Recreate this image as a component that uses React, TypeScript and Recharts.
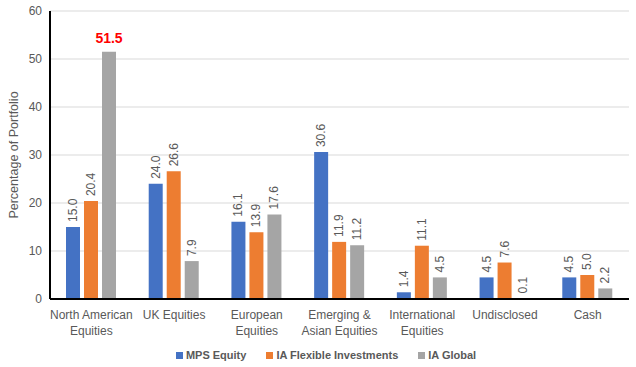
import React from "react";
import { BarChart, Bar, XAxis, YAxis, CartesianGrid, Legend, LabelList } from "recharts";

const categories = [
  "North American\nEquities",
  "UK Equities",
  "European\nEquities",
  "Emerging &\nAsian Equities",
  "International\nEquities",
  "Undisclosed",
  "Cash",
];
const mpsEquity = [15.0, 24.0, 16.1, 30.6, 1.4, 4.5, 4.5];
const iaFlexible = [20.4, 26.6, 13.9, 11.9, 11.1, 7.6, 5.0];
const iaGlobal = [51.5, 7.9, 17.6, 11.2, 4.5, 0.1, 2.2];
const yTicks = [0, 10, 20, 30, 40, 50, 60];

const seriesNames = ["MPS Equity", "IA Flexible Investments", "IA Global"];
const colors = ["#4472C4", "#ED7D31", "#A5A5A5"];

const data = categories.map((c, i) => ({
  cat: c,
  mps: mpsEquity[i],
  flex: iaFlexible[i],
  glob: iaGlobal[i],
}));

const FONT = "'Liberation Sans', Arial, sans-serif";
const TEXT = "#595959";

const CatTick = (props: any) => {
  const { x, y, payload } = props;
  const lines = String(payload.value).split("\n");
  return (
    <text x={x} y={y + 12} textAnchor="middle" fill={TEXT} fontSize={12} fontFamily={FONT}>
      {lines.map((l: string, i: number) => (
        <tspan key={i} x={x} dy={i === 0 ? 0 : 16}>
          {l}
        </tspan>
      ))}
    </text>
  );
};

const ValueLabel = (props: any) => {
  const { x, y, width, value } = props;
  const cx = x + width / 2;
  if (value === 51.5) {
    return (
      <text x={cx} y={y - 9} textAnchor="middle" fill="#FF0000" fontSize={14} fontWeight="bold" fontFamily={FONT}>
        {Number(value).toFixed(1)}
      </text>
    );
  }
  const ty = y - 5;
  const tx = cx + 4;
  return (
    <text
      x={tx}
      y={ty}
      transform={`rotate(-90 ${tx} ${ty})`}
      textAnchor="start"
      fill={TEXT}
      fontSize={12}
      fontFamily={FONT}
    >
      {Number(value).toFixed(1)}
    </text>
  );
};

const LegendContent = () => (
  <div style={{ display: "flex", justifyContent: "center", alignItems: "center", fontFamily: FONT, fontSize: 11, fontWeight: "bold", color: TEXT, paddingLeft: 16 }}>
    {seriesNames.map((n, i) => (
      <div key={n} style={{ display: "flex", alignItems: "center", marginRight: i < 2 ? 20 : 0 }}>
        <span style={{ width: 7, height: 7, background: colors[i], display: "inline-block", marginRight: 3 }} />
        <span>{n}</span>
      </div>
    ))}
  </div>
);

export default function App() {
  return (
    <div style={{ position: "absolute", left: 0, top: 0, background: "#fff" }}>
      <BarChart
        width={636}
        height={367}
        data={data}
        margin={{ top: 11, right: 7, left: 0, bottom: 0 }}
        barCategoryGap={16}
        barGap={4}
      >
        <CartesianGrid vertical={false} stroke="#D9D9D9" />
        <XAxis
          dataKey="cat"
          tick={<CatTick />}
          tickLine={false}
          axisLine={{ stroke: "#000", strokeWidth: 2 }}
          interval={0}
          height={38}
        />
        <YAxis
          domain={[0, 60]}
          ticks={yTicks}
          width={50}
          tickLine={false}
          axisLine={{ stroke: "#000", strokeWidth: 2 }}
          tick={{ fill: TEXT, fontSize: 12, fontFamily: FONT }}
          label={{
            value: "Percentage of Portfolio",
            angle: -90,
            position: "insideLeft",
            offset: 14,
            style: { textAnchor: "middle", fill: TEXT, fontSize: 12.5, fontFamily: FONT },
          }}
        />
        <Legend
          verticalAlign="bottom"
          height={30}
          content={<LegendContent />}
          wrapperStyle={{ position: "absolute", top: 349, left: 0, width: 636 }}
        />
        <Bar dataKey="mps" name={seriesNames[0]} fill={colors[0]} isAnimationActive={false}>
          <LabelList dataKey="mps" content={<ValueLabel />} />
        </Bar>
        <Bar dataKey="flex" name={seriesNames[1]} fill={colors[1]} isAnimationActive={false}>
          <LabelList dataKey="flex" content={<ValueLabel />} />
        </Bar>
        <Bar dataKey="glob" name={seriesNames[2]} fill={colors[2]} isAnimationActive={false}>
          <LabelList dataKey="glob" content={<ValueLabel />} />
        </Bar>
      </BarChart>
    </div>
  );
}
